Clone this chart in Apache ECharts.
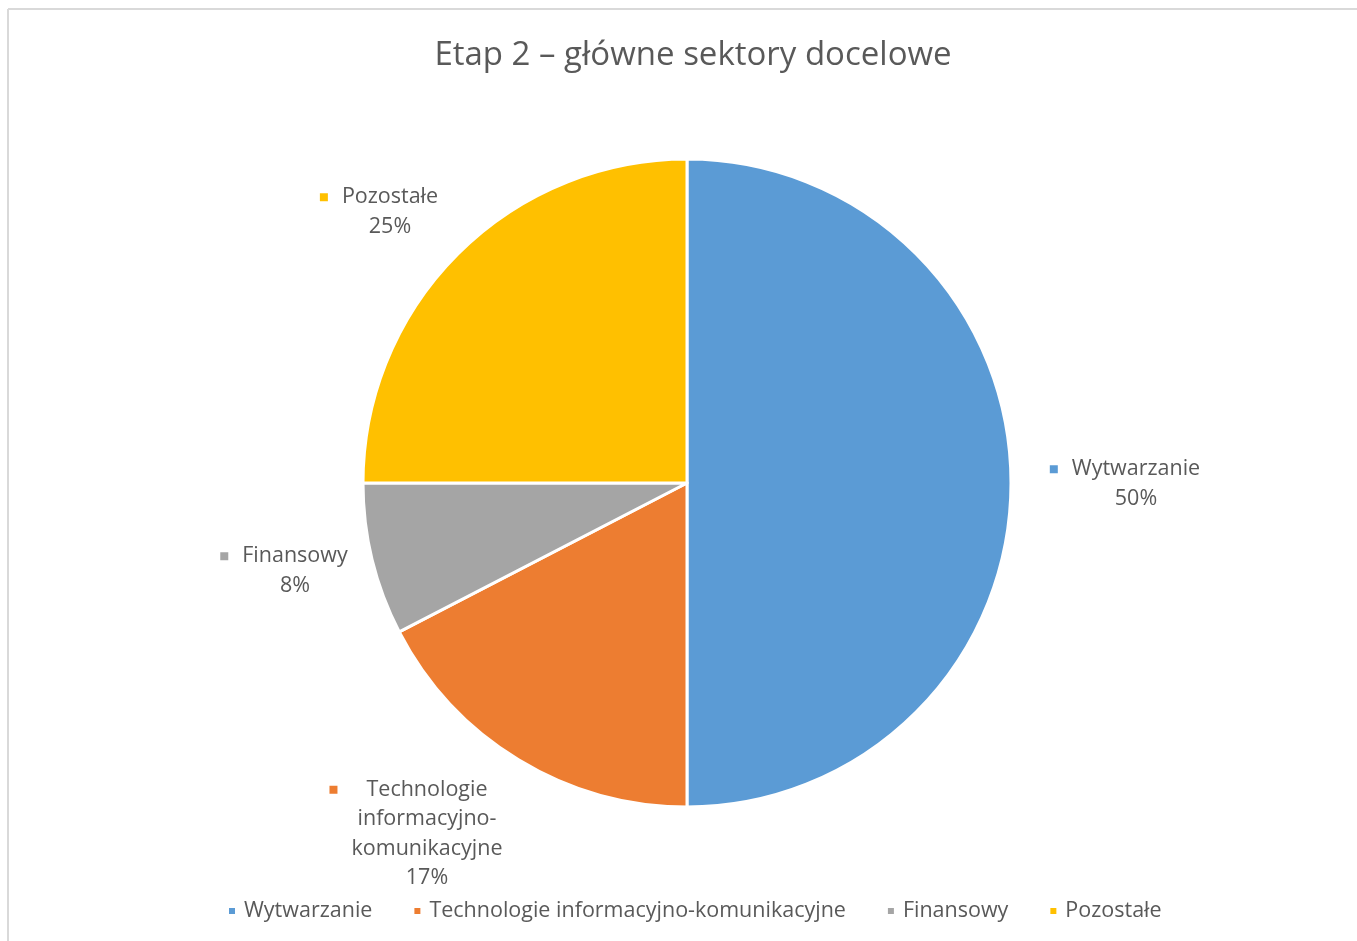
<!DOCTYPE html>
<html>
<head>
<meta charset="utf-8">
<script src="https://cdn.jsdelivr.net/npm/echarts@6/dist/echarts.min.js"></script>
<style>
html,body{margin:0;padding:0;background:#fff;}
#chart{width:1357px;height:941px;}
</style>
</head>
<body>
<div id="chart"></div>
<script>
const titleText = 'Etap 2 – główne sektory docelowe';
const categories = ['Wytwarzanie', 'Technologie informacyjno-komunikacyjne', 'Finansowy', 'Pozostałe'];
const values = [50, 17.4, 7.6, 25];
const colors = ['#5B9BD5', '#ED7D31', '#A5A5A5', '#FFC000'];

// label block centres and marker gaps (layout only)
const labelPos = [[1136, 484], [427, 834], [295, 571], [390, 212]];
const markerGap = [14, 29, 14, 14];

const FONT = 'Open Sans';
const TXT = '#595959';
const FS = 21.5;

const rich = {
  n: {fontFamily: FONT, fontSize: FS, color: TXT, align: 'center', lineHeight: 29.5}
};
colors.forEach((c, i) => {
  rich['m' + i] = {width: 8, height: 8, backgroundColor: c, align: 'center'};
  rich['g' + i] = {width: markerGap[i], height: 8, align: 'center'};
  rich['s' + i] = {width: markerGap[i] + 8, height: 8, align: 'center'};
});

function wrapName(name) {
  if (name.length < 20) return [name];
  const parts = name.split(' ');
  const out = [parts[0]];
  parts.slice(1).join(' ').split('-').forEach((p, i, arr) => out.push(p + (i < arr.length - 1 ? '-' : '')));
  return out;
}

const chart = echarts.init(document.getElementById('chart'), null, {renderer: 'canvas'});
chart.setOption({
  backgroundColor: '#ffffff',
  animation: false,
  color: colors,
  title: {
    text: titleText,
    left: 688,
    top: 34,
    textAlign: 'center',
    textStyle: {fontFamily: FONT, fontSize: 33, fontWeight: 'normal', color: TXT}
  },
  legend: {
    left: 222,
    top: 895,
    icon: 'rect',
    itemWidth: 8,
    itemHeight: 8,
    itemGap: 40,
    textStyle: {fontFamily: FONT, fontSize: FS, color: TXT, padding: [0, 0, 0, 3]},
    data: categories
  },
  graphic: [
    {type: 'line', shape: {x1: 8, y1: 9, x2: 8, y2: 941}, style: {stroke: '#d9d9d9', lineWidth: 2}, silent: true},
    {type: 'line', shape: {x1: 8, y1: 9, x2: 1357, y2: 9}, style: {stroke: '#d9d9d9', lineWidth: 2}, silent: true}
  ],
  series: [{
    type: 'pie',
    center: [687, 483],
    radius: 324,
    startAngle: 90,
    clockwise: true,
    itemStyle: {borderColor: '#ffffff', borderWidth: 3},
    label: {
      show: true,
      position: 'outside',
      rich: rich,
      formatter: function (p) {
        const i = p.dataIndex;
        const lines = wrapName(p.name);
        let s = '{m' + i + '|}{g' + i + '|}{n|' + lines[0] + '}{s' + i + '|}';
        for (let k = 1; k < lines.length; k++) s += '\n{n|' + lines[k] + '}';
        s += '\n{n|' + Math.round(p.percent) + '%}';
        return s;
      }
    },
    labelLine: {show: false},
    labelLayout: function (params) {
      const pos = labelPos[params.dataIndex];
      return {x: pos[0], y: pos[1], align: 'center', verticalAlign: 'middle'};
    },
    emphasis: {disabled: true},
    data: categories.map((c, i) => ({name: c, value: values[i]}))
  }]
});
</script>
</body>
</html>
